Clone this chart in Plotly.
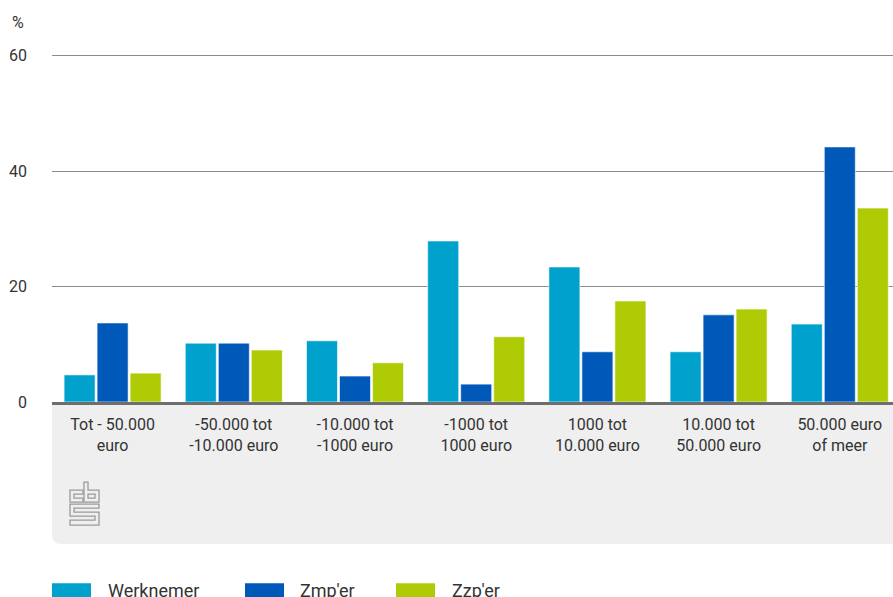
import plotly.graph_objects as go

categories = ["Tot - 50.000<br>euro", "-50.000 tot<br>-10.000 euro", "-10.000 tot<br>-1000 euro",
              "-1000 tot<br>1000 euro", "1000 tot<br>10.000 euro", "10.000 tot<br>50.000 euro",
              "50.000 euro<br>of meer"]
werknemer = [4.7, 10.2, 10.6, 27.9, 23.4, 8.7, 13.5]
zmper = [13.7, 10.2, 4.5, 3.1, 8.7, 15.1, 44.2]
zzper = [5.0, 9.0, 6.8, 11.3, 17.5, 16.1, 33.6]
series_names = ["Werknemer", "Zmp'er", "Zzp'er"]
colors = ["#00a1cd", "#0058b8", "#afcb05"]
y_ticks = [0, 20, 40, 60]

W, H = 893, 597
YMAX = 60.3
unit = (402 - 56) / 60.0
L, R, B = 52, 893, 402
T = B - YMAX * unit
cat_px = 121.2
x_range = [-0.5, -0.5 + (R - L) / cat_px]

def px(x):
    return (x - L) / (R - L)

def py(y):
    return (B - y) / (B - T)

fig = go.Figure()
for name, vals, c in zip(series_names, [werknemer, zmper, zzper], colors):
    fig.add_trace(go.Bar(x=categories, y=vals, name=name, marker_color=c,
                         marker_line=dict(width=1, color="rgba(255,255,255,0.6)"),
                         showlegend=False))

font = "Roboto, 'Noto Sans', sans-serif"
shapes = []
r = 9
x0, x1, y0, y1 = 52, 900, 403, 544
path = (f"M {px(x0)},{py(y0)} L {px(x1)},{py(y0)} L {px(x1)},{py(y1)} "
        f"L {px(x0 + r)},{py(y1)} Q {px(x0)},{py(y1)} {px(x0)},{py(y1 - r)} Z")
shapes.append(dict(type="path", xref="paper", yref="paper", path=path,
                   fillcolor="#efefef", line=dict(width=0), layer="below"))

def poly(pts):
    return "M " + " L ".join(f"{px(a)},{py(b)}" for a, b in pts) + " Z"

logo_polys = [
    [(83, 490), (70, 490), (70, 502), (83, 502), (83, 498), (74, 498), (74, 494), (83, 494)],
    [(84, 482), (88, 482), (88, 490), (99, 490), (99, 502), (84, 502)],
    [(88, 494), (95, 494), (95, 498), (88, 498)],
    [(99, 504), (70, 504), (70, 516), (95, 516), (95, 520), (70, 520), (70, 525), (99, 525),
     (99, 512), (74, 512), (74, 508), (99, 508)],
]
for p in logo_polys:
    shapes.append(dict(type="path", xref="paper", yref="paper", path=poly(p),
                       line=dict(color="#9a9a9a", width=1.3), fillcolor="rgba(0,0,0,0)"))

annotations = [dict(text="%", xref="paper", yref="paper", x=px(10), y=py(11),
                    xanchor="left", yanchor="top", showarrow=False,
                    font=dict(family=font, size=16, color="#333333"))]

legend_x = [(52, 106), (245, 298), (396, 450)]
for (sx, tx), name, c in zip(legend_x, series_names, colors):
    shapes.append(dict(type="rect", xref="paper", yref="paper", x0=px(sx), x1=px(sx + 39),
                       y0=py(583), y1=py(605), fillcolor=c, line=dict(width=0)))
    annotations.append(dict(text=name, xref="paper", yref="paper", x=px(tx), y=py(578),
                            xanchor="left", yanchor="top", showarrow=False,
                            font=dict(family=font, size=18, color="#333333")))

fig.update_layout(
    width=W, height=H,
    margin=dict(l=L, r=W - R, t=T, b=H - B, pad=0),
    plot_bgcolor="white", paper_bgcolor="white",
    barmode="group", bargap=0.183, bargroupgap=0.06,
    shapes=shapes, annotations=annotations,
    font=dict(family=font, color="#333333"),
    xaxis=dict(range=x_range, showline=True, linecolor="#6e6e6e", linewidth=3, ticks="",
               tickfont=dict(size=16, color="#333333"), ticklabelstandoff=6, fixedrange=True),
    yaxis=dict(range=[0, YMAX], tickvals=y_ticks, showgrid=True, gridcolor="#8c8c8c",
               gridwidth=1, zeroline=False, tickfont=dict(size=16, color="#333333"),
               ticklabelstandoff=24, ticks="", fixedrange=True),
)

fig.write_html("out.html", config={"displayModeBar": False},
               post_script="document.body.style.margin='0';")
